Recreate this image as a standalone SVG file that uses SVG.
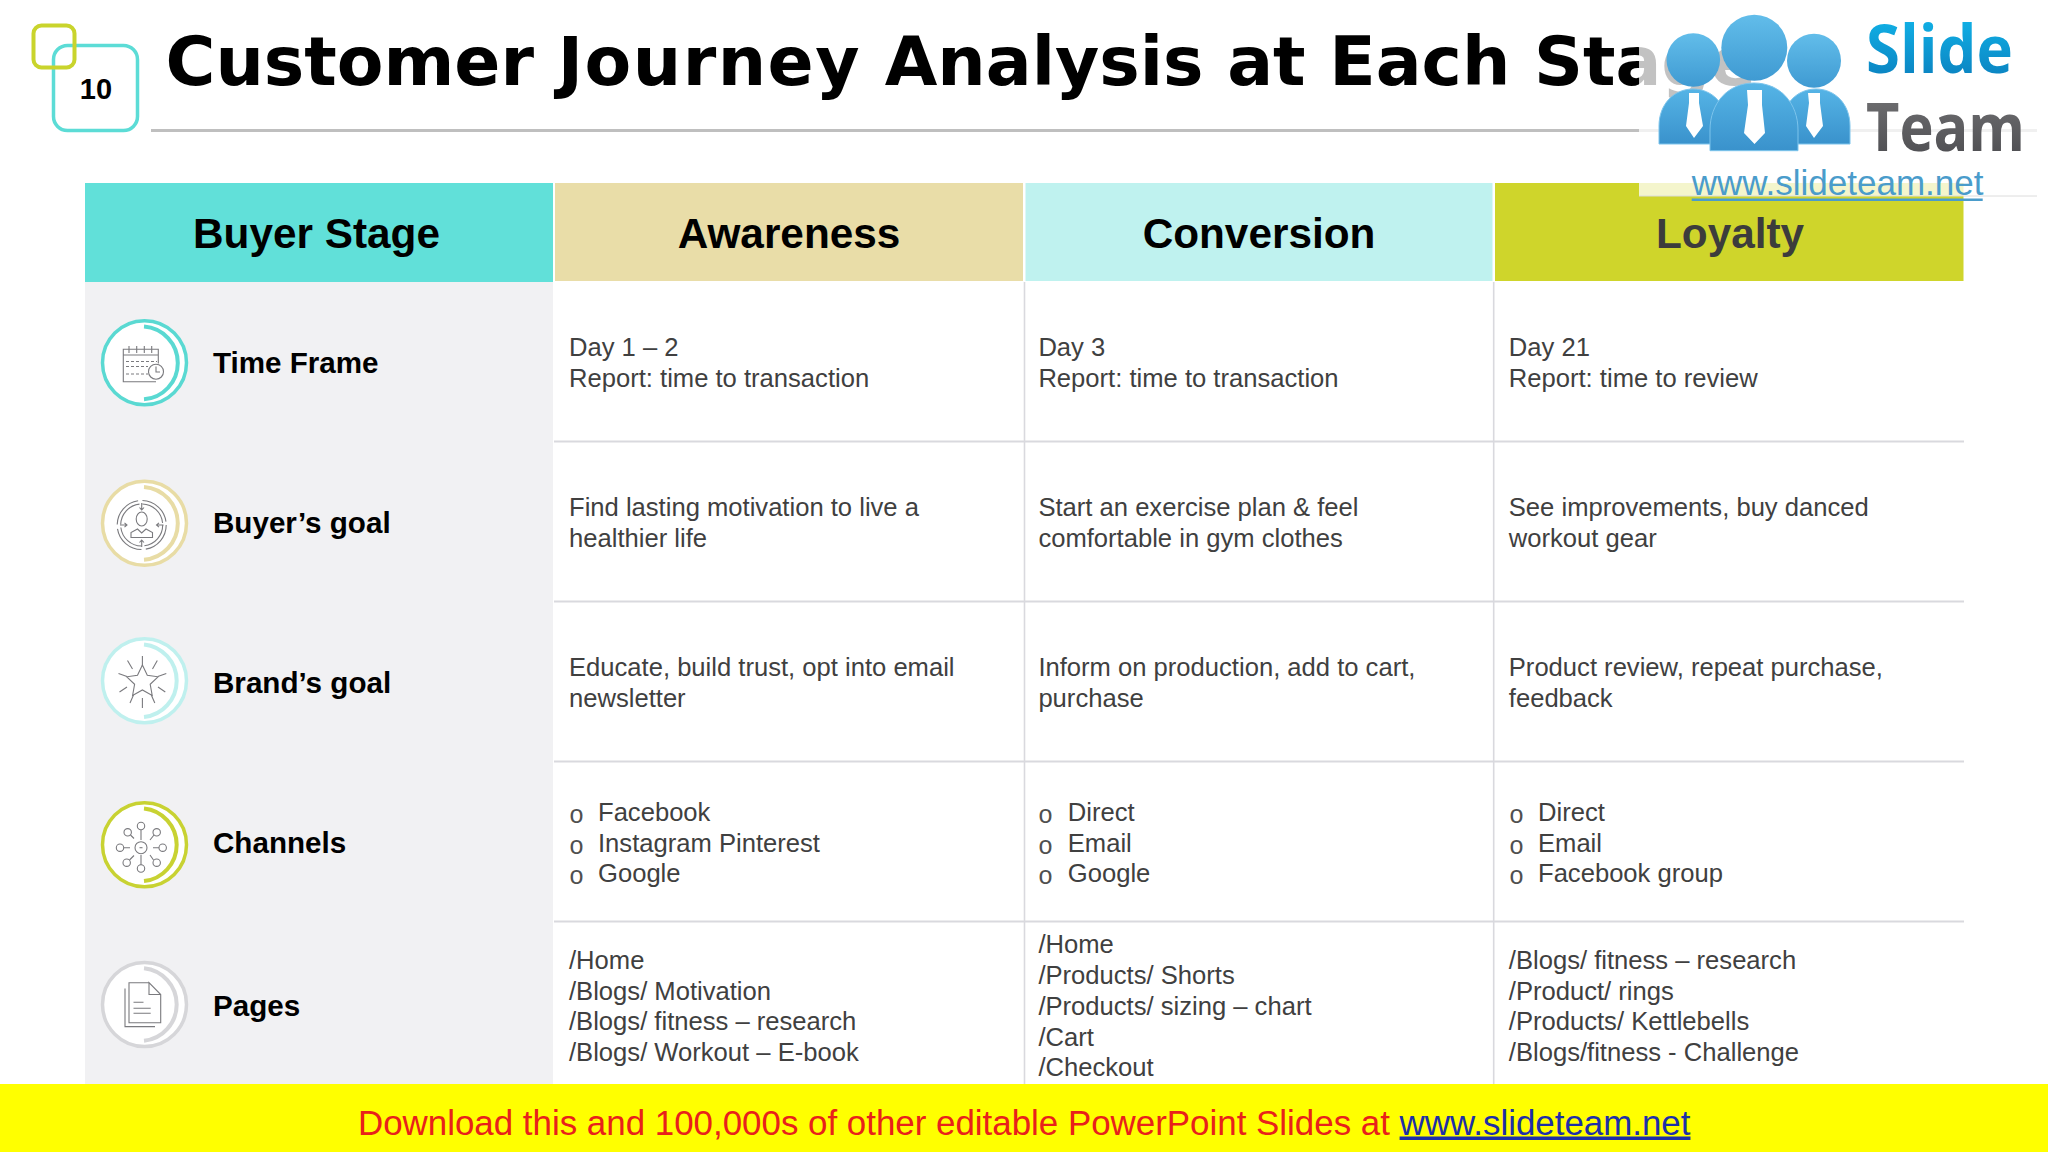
<svg xmlns="http://www.w3.org/2000/svg" width="2048" height="1152" viewBox="0 0 2048 1152">
<style>
text{font-family:"Liberation Sans",Arial,sans-serif}
.title{font-family:"DejaVu Sans",sans-serif;font-weight:700;font-size:68px;fill:#000}
.hd{font-weight:700;font-size:42.3px;text-anchor:middle;fill:#000}
.lb{font-weight:700;font-size:29.6px;fill:#000}
.c{font-size:25.6px;fill:#404040}
.b{font-family:"Liberation Mono",monospace;font-size:25px;fill:#505050}
.ring{fill:#fff;stroke-width:3.5}
.arc{fill:none;stroke-width:4}
.ic{fill:none;stroke:#7a7a7e;stroke-width:1.1}
.grid{stroke:#d9d9de;stroke-width:2;fill:none}
</style>
<defs>
<linearGradient id="gs" x1="0" y1="0" x2="0" y2="1"><stop offset="0" stop-color="#12bdf0"/><stop offset="1" stop-color="#0a78b8"/></linearGradient>
<linearGradient id="gt" x1="0" y1="0" x2="0" y2="1"><stop offset="0" stop-color="#777779"/><stop offset="1" stop-color="#48484c"/></linearGradient>
<linearGradient id="gh" x1="0" y1="0" x2="0" y2="1"><stop offset="0" stop-color="#62bdea"/><stop offset="1" stop-color="#3f9ad2"/></linearGradient>
<linearGradient id="gb" x1="0" y1="0" x2="0" y2="1"><stop offset="0" stop-color="#55b4e6"/><stop offset="1" stop-color="#3a92cc"/></linearGradient>
</defs>
<rect width="2048" height="1152" fill="#fff"/>

<g id="title">
<text class="title" x="165.500" y="85">Customer <tspan letter-spacing="1.500">Journey</tspan> Analysis at Each Stage</text>
<rect x="151" y="129" width="1886" height="3" fill="#bfbfbf"/>
</g>
<g id="page-number">
<rect x="53.500" y="45.500" width="84" height="85" rx="14" fill="#fff" stroke="#5cdcd6" stroke-width="3.500"/>
<rect x="33.500" y="25.500" width="41" height="42" rx="8" fill="none" stroke="#c9d42c" stroke-width="4"/>
<text x="96" y="99" font-size="29" font-weight="700" text-anchor="middle" fill="#000">10</text>
</g>

<g id="table">
<rect x="85" y="282" width="468" height="802" fill="#f1f1f3"/>
<rect x="85" y="183" width="468" height="99" fill="#61e0d9"/>
<rect x="555" y="183" width="468" height="98" fill="#e9dda8"/>
<rect x="1025.500" y="183" width="467" height="98" fill="#bff2ef"/>
<rect x="1495" y="183" width="468.500" height="98" fill="#cfd52b"/>
<text class="hd" x="316.500" y="247.500">Buyer Stage</text>
<text class="hd" x="789" y="247.500">Awareness</text>
<text class="hd" x="1259" y="247.500">Conversion</text>
<text class="hd" x="1730" y="247.500" style="fill:#3c3c3c">Loyalty</text>
<path class="grid" d="M554 441.500H1964M554 601.500H1964M554 761.500H1964M554 921.500H1964"/>
<path class="grid" d="M1024.500 282V1084M1493.700 282V1084" style="stroke-width:1.600"/>
</g>

<g id="row-time-frame">
<circle class="ring" cx="144.500" cy="362.800" r="42" stroke="#5ad9d2"/>
<path class="arc" stroke="#5ad9d2" d="M144 326.500A36.500 36.500 0 0 1 144 399.300"/>
<g class="ic">
<path d="M156 381.700H123.300V349.300H158.300V363.500M123.300 355H158.300M129 346V353M136.700 346V353M144.300 346V353M151.700 346V353"/>
<path d="M126 361.500H157M126 366.500H148M126 374H148" stroke-dasharray="3 2"/>
<circle cx="156" cy="371.700" r="7.500"/><path d="M156 366.500V372H160"/>
</g>
<text class="lb" x="213" y="373">Time Frame</text>
<text class="c" x="569" y="355.500">Day 1 – 2</text><text class="c" x="569" y="386.500">Report: time to transaction</text>
<text class="c" x="1038.400" y="355.500">Day 3</text><text class="c" x="1038.400" y="386.500">Report: time to transaction</text>
<text class="c" x="1508.800" y="355.500">Day 21</text><text class="c" x="1508.800" y="386.500">Report: time to review</text>
</g>

<g id="row-buyers-goal">
<circle class="ring" cx="144.500" cy="523.200" r="42" stroke="#e8dca5"/>
<path class="arc" stroke="#e8dca5" d="M144 486.900A36.500 36.500 0 0 1 144 559.700"/>
<g class="ic">
<circle cx="141.700" cy="525" r="24.500" stroke-dasharray="34 4.500"/>
<circle cx="141.700" cy="525" r="21" stroke-dasharray="30 3"/>
<ellipse cx="141.700" cy="519" rx="5.500" ry="7"/>
<path d="M131 537.500V532.500L137.500 529L141.700 533L146 529L152.500 532.500V537.500H131Z"/>
<path d="M141.700 503V510M139.500 507.500L141.700 510L144 507.500M141.700 547V540M139.500 542.500L141.700 540L144 542.500M120 525H127M124.500 522.800L127 525L124.500 527.200M163.500 525H156.500M159 522.800L156.500 525L159 527.200"/>
</g>
<text class="lb" x="213" y="532.700">Buyer’s goal</text>
<text class="c" x="569" y="516.200">Find lasting motivation to live a</text><text class="c" x="569" y="547">healthier life</text>
<text class="c" x="1038.400" y="516.200">Start an exercise plan &amp; feel</text><text class="c" x="1038.400" y="547">comfortable in gym clothes</text>
<text class="c" x="1508.800" y="516.200">See improvements, buy danced</text><text class="c" x="1508.800" y="547">workout gear</text>
</g>

<g id="row-brands-goal">
<circle class="ring" cx="144.500" cy="680.700" r="42" stroke="#bff0ee"/>
<path class="arc" stroke="#bff0ee" d="M144 644.400A36.500 36.500 0 0 1 144 717"/>
<g class="ic">
<path d="M142.400 665L147.300 675.300L158 676.800L150.200 684.300L152.200 695.400L142.400 690L132.600 695.400L134.600 684.300L126.800 676.800L137.500 675.300Z"/>
<path d="M142.400 656V666M127.500 660.500L132.500 669M157.300 660.500L152.500 669M118.500 673.500L127 676.500M166.300 673.500L157.800 676.500M119.500 692L127 687M165.300 692L158 687M130 703L133.500 695M154.800 703L151.300 695M142.400 698V708"/>
</g>
<text class="lb" x="213" y="692.800">Brand’s goal</text>
<text class="c" x="569" y="676">Educate, build trust, opt into email</text><text class="c" x="569" y="706.700">newsletter</text>
<text class="c" x="1038.400" y="676">Inform on production, add to cart,</text><text class="c" x="1038.400" y="706.700">purchase</text>
<text class="c" x="1508.800" y="676">Product review, repeat purchase,</text><text class="c" x="1508.800" y="706.700">feedback</text>
</g>

<g id="row-channels">
<circle class="ring" cx="144.500" cy="844.800" r="42" stroke="#c8d232"/>
<path class="arc" stroke="#c8d232" d="M144 808.500A36.500 36.500 0 0 1 144 881.100"/>
<g class="ic">
<circle cx="141" cy="847.700" r="6"/><path d="M139.500 847.700H142.500"/>
<circle cx="141" cy="826" r="3.700"/><circle cx="162.700" cy="847.700" r="3.700"/><circle cx="141" cy="868.500" r="3.700"/><circle cx="120" cy="847.700" r="3.700"/>
<circle cx="127.700" cy="832.300" r="3.700"/><circle cx="156.700" cy="832.300" r="3.700"/><circle cx="126.700" cy="862.700" r="3.700"/><circle cx="156.700" cy="862.700" r="3.700"/>
<path d="M141 830V840M159 847.700H153M141 865V855M124 847.700H130M130.500 835L134 838.500M154 835L150 840M129.500 860L134 855.500M153.500 860L150 855"/>
</g>
<text class="lb" x="213" y="852.500">Channels</text>
<text class="b" x="569" y="822.500">o</text><text class="c" x="598" y="820.500">Facebook</text>
<text class="b" x="569" y="853.500">o</text><text class="c" x="598" y="851.500">Instagram Pinterest</text>
<text class="b" x="569" y="884">o</text><text class="c" x="598" y="882">Google</text>
<text class="b" x="1038" y="822.500">o</text><text class="c" x="1067.800" y="820.500">Direct</text>
<text class="b" x="1038" y="853.500">o</text><text class="c" x="1067.800" y="851.500">Email</text>
<text class="b" x="1038" y="884">o</text><text class="c" x="1067.800" y="882">Google</text>
<text class="b" x="1509" y="822.500">o</text><text class="c" x="1538" y="820.500">Direct</text>
<text class="b" x="1509" y="853.500">o</text><text class="c" x="1538" y="851.500">Email</text>
<text class="b" x="1509" y="884">o</text><text class="c" x="1538" y="882">Facebook group</text>
</g>

<g id="row-pages">
<circle class="ring" cx="144.500" cy="1004.500" r="42" stroke="#d6d6d9"/>
<path class="arc" stroke="#d6d6d9" d="M144 968.200A36.500 36.500 0 0 1 144 1040.800"/>
<g class="ic">
<path d="M149 982.700H129V1022.700H160.700V994.500L149 982.700V994.500H160.700"/>
<path d="M125 988.500V1026.600H155"/>
<path d="M133.500 1002.300H143.500M133.500 1008.300H150.700M133.500 1013.300H150.700"/>
</g>
<text class="lb" x="213" y="1016">Pages</text>
<text class="c" x="569" y="968.800">/Home</text><text class="c" x="569" y="999.600">/Blogs/ Motivation</text><text class="c" x="569" y="1030.300">/Blogs/ fitness – research</text><text class="c" x="569" y="1061">/Blogs/ Workout – E-book</text>
<text class="c" x="1038.400" y="953.300">/Home</text><text class="c" x="1038.400" y="984">/Products/ Shorts</text><text class="c" x="1038.400" y="1015">/Products/ sizing – chart</text><text class="c" x="1038.400" y="1045.500">/Cart</text><text class="c" x="1038.400" y="1076.300">/Checkout</text>
<text class="c" x="1508.800" y="968.800">/Blogs/ fitness – research</text><text class="c" x="1508.800" y="999.600">/Product/ rings</text><text class="c" x="1508.800" y="1030.300">/Products/ Kettlebells</text><text class="c" x="1508.800" y="1061">/Blogs/fitness - Challenge</text>
</g>

<g id="watermark">
<rect x="1639" y="0" width="398" height="196" fill="#fff" fill-opacity="0.76"/>
<path d="M1639 196H2037" stroke="#dcdcdc" stroke-width="1"/>
<path d="M1659 144V126C1659 104 1674 89 1693 89C1712 89 1727 104 1727 126V144Z" fill="url(#gb)" stroke="#7cc4ec" stroke-width="1"/>
<path d="M1782 144V126C1782 104 1797 89 1816 89C1835 89 1850 104 1850 126V144Z" fill="url(#gb)" stroke="#7cc4ec" stroke-width="1"/>
<circle cx="1693.300" cy="60" r="26.800" fill="url(#gh)"/>
<circle cx="1814" cy="60.700" r="27" fill="url(#gh)"/>
<circle cx="1754.300" cy="47.700" r="33" fill="url(#gh)"/>
<path d="M1710 150.700V130C1710 103 1728 83 1754 83C1780 83 1798 103 1798 130V150.700Z" fill="url(#gb)" stroke="#7cc4ec" stroke-width="1"/>
<path d="M1689 93H1699V103L1703 126L1694 138L1686 126L1689 103Z" fill="#fff"/>
<path d="M1808 93H1820V103L1823 126L1814 138L1806 126L1809 103Z" fill="#fff"/>
<path d="M1747 90H1762V105L1765 133L1754.500 144L1744 133L1748 105Z" fill="#fff"/>
<text x="1866" y="73" font-size="66" font-weight="700" textLength="147" lengthAdjust="spacingAndGlyphs" style="font-family:'Open Sans',sans-serif" fill="url(#gs)">Slide</text>
<text x="1866" y="150.700" font-size="66" font-weight="700" textLength="159" lengthAdjust="spacingAndGlyphs" style="font-family:'Open Sans',sans-serif" fill="url(#gt)">Team</text>
<text x="1691.700" y="195" font-size="35" fill="#4a9ccb">www.slideteam.net</text>
<rect x="1691.700" y="198.500" width="291" height="2.500" fill="#4a9ccb"/>
</g>

<g id="footer">
<rect x="0" y="1084" width="2048" height="68" fill="#ffff00"/>
<text x="358" y="1134.500" font-size="34.900" fill="#e8211b">Download this and 100,000s of other editable PowerPoint Slides at <tspan fill="#1d2fa8" text-decoration="underline">www.slideteam.net</tspan></text>
</g>
</svg>
